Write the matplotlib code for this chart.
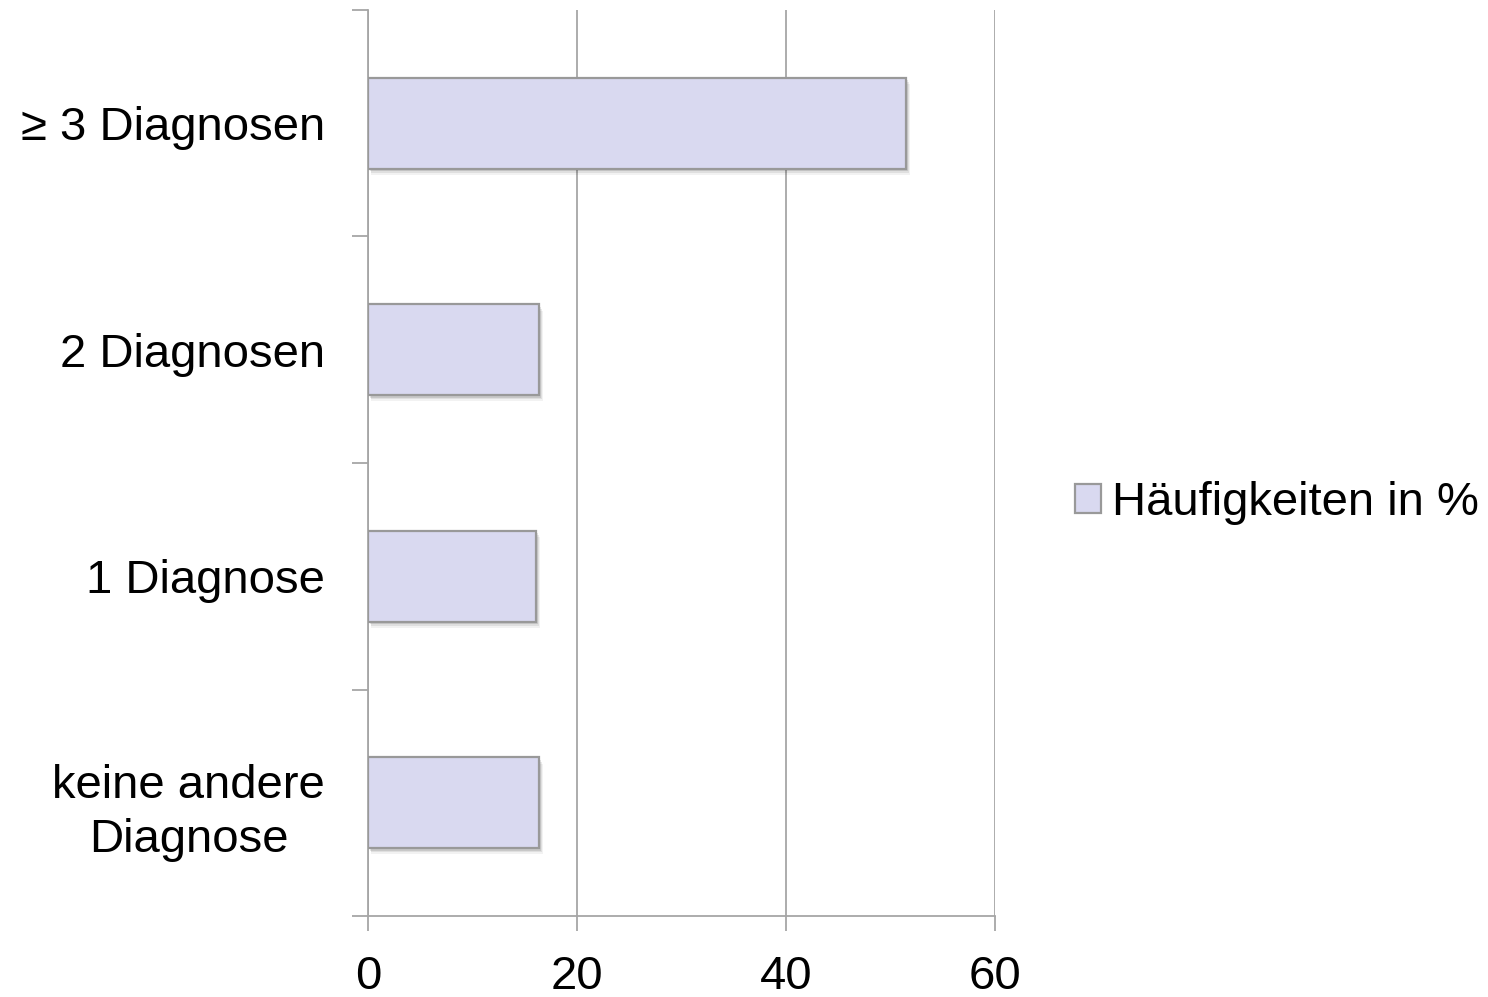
import matplotlib
matplotlib.use("Agg")
import matplotlib.pyplot as plt
import matplotlib.patheffects as pe
from matplotlib.patches import Patch

plt.rcParams['font.family'] = ['Liberation Sans', 'DejaVu Sans']

categories = ["keine andere\nDiagnose", "1 Diagnose", "2 Diagnosen", "≥ 3 Diagnosen"]
values = [16.4, 16.1, 16.4, 51.5]
series_name = "Häufigkeiten in %"
x_ticks = [0, 20, 40, 60]

fill = "#d9d9f0"
edge = "#999999"
grid_col = "#a6a6a6"
fs = 34

fig = plt.figure(figsize=(14.88, 9.97), dpi=100)
ax = fig.add_axes([368 / 1488, 1 - 916 / 997, (995 - 368) / 1488, (916 - 10) / 997])

pos = list(range(len(categories)))
bars = ax.barh(pos, values, height=0.4, color=fill, edgecolor=edge, linewidth=1.6,
               zorder=3)
# soft drop shadow built from a few faint offset copies
for b in bars:
    b.set_path_effects([
        pe.SimplePatchShadow(offset=(2.5, -4.5), shadow_rgbFace="#000000", alpha=0.05),
        pe.SimplePatchShadow(offset=(2, -3), shadow_rgbFace="#000000", alpha=0.08),
        pe.SimplePatchShadow(offset=(1.2, -1.8), shadow_rgbFace="#000000", alpha=0.1),
        pe.Normal()])

ax.set_xlim(0, 60)
ax.set_ylim(-0.5, len(categories) - 0.5)
ax.set_xticks(x_ticks)
ax.set_xticklabels([str(t) for t in x_ticks])
ax.xaxis.grid(True, color=grid_col, linewidth=1.3, zorder=0)
ax.set_axisbelow(True)

# category labels centred in their bands, ticks at the band boundaries
ax.set_yticks(pos)
ax.set_yticklabels(categories)
ax.set_yticks([p - 0.5 for p in pos] + [len(categories) - 0.5], minor=True)
ax.tick_params(axis='y', which='major', length=0, pad=31, labelsize=fs)
ax.tick_params(axis='y', which='minor', length=11.5, width=1.3, color=grid_col,
               direction='out')
ax.tick_params(axis='x', length=11, width=1.3, color=grid_col, direction='out',
               pad=17, labelsize=fs)
for lbl in ax.get_yticklabels():
    lbl.set_multialignment('center')
    lbl.set_linespacing(1.3)

for side in ['top', 'right']:
    ax.spines[side].set_visible(False)
for side in ['left', 'bottom']:
    ax.spines[side].set_color(grid_col)
    ax.spines[side].set_linewidth(1.3)

handle = Patch(facecolor=fill, edgecolor=edge, linewidth=1.6)
fig.legend([handle], [series_name], loc='center left',
           bbox_to_anchor=(1075 / 1488, 1 - 503 / 997), frameon=False,
           fontsize=fs, handlelength=0.55, handleheight=0.55, handletextpad=0.24,
           borderaxespad=0, borderpad=0)

fig.savefig("out.png", dpi=100)
